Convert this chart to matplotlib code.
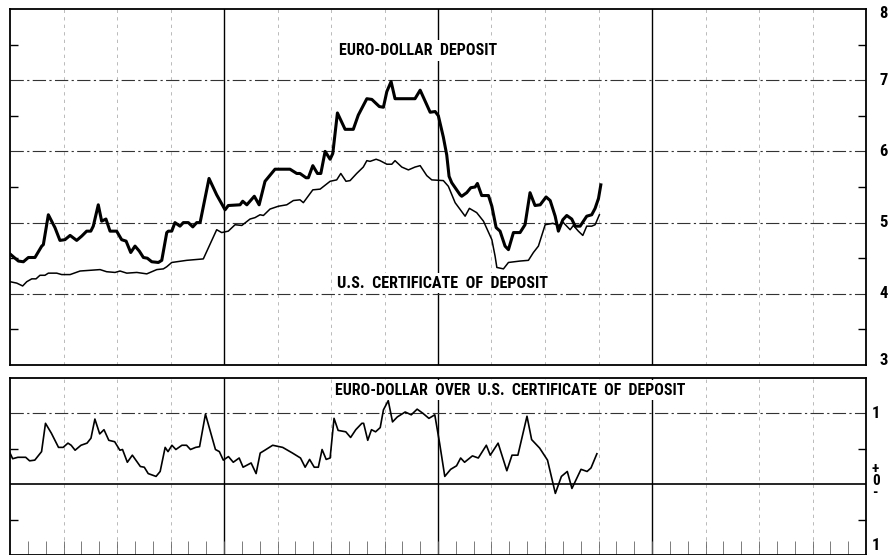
import numpy as np
import matplotlib
matplotlib.use("Agg")
import matplotlib.pyplot as plt
import matplotlib.transforms as mtransforms
from matplotlib import font_manager

# months from the start of the first year (4 years shown, data ends ~Oct of year 3)
euro_x = [0.0, 0.47, 0.75, 1.03, 1.40, 1.78, 1.87, 2.15, 2.52, 2.80, 3.08, 3.37, 3.74, 4.02,
          4.30, 4.53, 4.67, 4.95, 5.14, 5.38, 5.61, 5.98, 6.26, 6.51, 6.77, 7.01, 7.25, 7.48,
          7.70, 7.95, 8.32, 8.51, 8.79, 8.88, 9.07, 9.25, 9.53, 9.72, 10.0, 10.25, 10.47, 10.66,
          11.16, 11.59, 12.06, 12.24, 12.90, 13.05, 13.28, 13.70, 13.97, 14.30, 14.86, 15.70,
          16.08, 16.26, 16.60, 16.73, 16.98, 17.24, 17.43, 17.67, 17.95, 18.10, 18.36, 18.79,
          19.25, 19.53, 20.01, 20.29, 20.71, 20.94, 21.13, 21.37, 21.59, 22.71, 23.0, 23.56,
          23.84, 24.02, 24.30, 24.49, 24.62, 24.77, 25.24, 25.33, 25.61, 25.84, 26.08, 26.21,
          26.45, 26.83, 27.02, 27.26, 27.48, 27.76, 27.95, 28.23, 28.60, 28.88, 29.16, 29.44,
          29.73, 30.06, 30.29, 30.57, 30.75, 31.0, 31.22, 31.50, 31.69, 31.97, 32.34, 32.62,
          32.81, 33.0, 33.13]
euro_y = [4.56, 4.46, 4.45, 4.51, 4.51, 4.67, 4.69, 5.11, 4.93, 4.75, 4.76, 4.82, 4.75, 4.81,
          4.88, 4.88, 4.95, 5.25, 5.02, 5.05, 4.88, 4.88, 4.76, 4.74, 4.58, 4.67, 4.60, 4.51,
          4.50, 4.45, 4.44, 4.47, 4.86, 4.88, 4.88, 5.00, 4.95, 5.00, 5.00, 4.94, 5.00, 5.00,
          5.62, 5.39, 5.18, 5.24, 5.25, 5.30, 5.25, 5.37, 5.25, 5.58, 5.75, 5.75,
          5.69, 5.69, 5.63, 5.63, 5.80, 5.69, 5.69, 6.00, 5.89, 5.97, 6.54, 6.31,
          6.31, 6.51, 6.74, 6.73, 6.63, 6.62, 6.84, 6.98, 6.74, 6.74, 6.86, 6.55,
          6.56, 6.50, 6.20, 5.95, 5.65, 5.56, 5.39, 5.37, 5.42, 5.49, 5.50, 5.55,
          5.38, 5.38, 5.23, 4.93, 4.88, 4.67, 4.62, 4.86, 4.86, 4.97, 5.42, 5.24,
          5.25, 5.36, 5.31, 5.09, 4.88, 5.04, 5.10, 5.05, 4.95, 4.95, 5.09, 5.11,
          5.20, 5.34, 5.53]

cd_x = [0.0, 0.38, 0.71, 0.94, 1.22, 1.46, 1.68, 1.96, 2.15, 2.62, 2.90, 3.37, 3.93, 4.49,
        5.05, 5.42, 5.89, 6.17, 6.55, 7.11, 7.67, 8.23, 8.60, 8.79, 9.07, 9.91, 10.84, 11.59,
        11.87, 12.24, 12.62, 13.0, 13.46, 13.74, 14.02, 14.21, 14.58, 15.05, 15.52, 15.89,
        16.26, 16.45, 16.98, 17.39, 17.95, 18.32, 18.55, 18.84, 19.07, 19.44, 19.81, 20.01,
        20.19, 20.53, 20.75, 21.13, 21.41, 21.59, 21.97, 22.34, 22.71, 23.0, 23.37, 23.65,
        24.30, 24.58, 24.96, 25.52, 25.76, 26.17, 26.55, 27.02, 27.20, 27.30, 27.67, 27.95,
        28.60, 29.07, 29.35, 29.63, 30.01, 30.44, 30.75, 31.03, 31.41, 31.59, 31.87, 32.12,
        32.34, 32.62, 32.81, 33.05]
cd_y = [4.17, 4.15, 4.11, 4.17, 4.21, 4.21, 4.26, 4.26, 4.29, 4.29, 4.27, 4.27, 4.32, 4.33,
        4.34, 4.31, 4.30, 4.32, 4.29, 4.30, 4.28, 4.34, 4.35, 4.38, 4.44, 4.47, 4.49, 4.90,
        4.86, 4.88, 4.97, 4.96, 5.05, 5.07, 5.11, 5.10, 5.19, 5.23, 5.25, 5.31,
        5.32, 5.28, 5.46, 5.47, 5.58, 5.60, 5.69, 5.58, 5.59, 5.69, 5.78, 5.87,
        5.86, 5.89, 5.87, 5.82, 5.82, 5.87, 5.78, 5.74, 5.78, 5.80, 5.66, 5.60,
        5.59, 5.51, 5.28, 5.09, 5.20, 5.14, 5.02, 4.76, 4.53, 4.37, 4.35, 4.44,
        4.46, 4.47, 4.58, 4.67, 4.97, 4.99, 4.96, 5.00, 4.90, 4.96, 4.88, 4.82,
        4.95, 4.95, 4.97, 5.11]

spread_x = [0.0, 0.15, 0.44, 0.88, 1.10, 1.39, 1.77, 1.99, 2.32, 2.72, 2.98, 3.25, 3.43, 3.65,
            3.98, 4.32, 4.54, 4.76, 5.03, 5.27, 5.54, 5.87, 6.16, 6.31, 6.58, 6.86, 7.31, 7.53,
            7.75, 8.19, 8.42, 8.70, 8.86, 9.08, 9.30, 9.64, 9.90, 10.12, 10.41, 10.63, 10.96,
            11.52, 11.74, 11.96, 12.25, 12.52, 12.85, 13.07, 13.52, 13.80, 14.03, 14.29, 14.73,
            15.29, 15.84, 16.29, 16.55, 16.80, 17.06, 17.29, 17.50, 17.73, 17.95, 18.17, 18.40,
            18.83, 19.10, 19.39, 19.73, 19.83, 20.06, 20.27, 20.50, 20.76, 20.94, 21.21, 21.45,
            21.72, 22.16, 22.50, 22.83, 23.16, 23.49, 23.82, 24.09, 24.38, 24.71, 25.04, 25.27,
            25.49, 25.93, 26.26, 26.71, 26.93, 27.37, 27.86, 28.15, 28.48, 28.99, 29.25, 29.70,
            30.14, 30.58, 30.92, 31.25, 31.51, 32.02, 32.36, 32.58, 32.91]
spread_y = [0.44, 0.36, 0.38, 0.38, 0.33, 0.34, 0.46, 0.86, 0.72, 0.52, 0.52, 0.58, 0.55, 0.48,
            0.55, 0.58, 0.65, 0.92, 0.71, 0.77, 0.62, 0.60, 0.48, 0.49, 0.31, 0.41, 0.25, 0.24,
            0.15, 0.11, 0.18, 0.52, 0.46, 0.55, 0.49, 0.55, 0.55, 0.49, 0.52, 0.53, 0.99,
            0.49, 0.46, 0.34, 0.39, 0.31, 0.37, 0.24, 0.30, 0.15, 0.44, 0.48, 0.55,
            0.52, 0.44, 0.37, 0.24, 0.35, 0.24, 0.24, 0.49, 0.35, 0.37, 0.93, 0.76,
            0.74, 0.66, 0.77, 0.86, 0.86, 0.62, 0.77, 0.74, 0.80, 1.05, 1.18, 0.88,
            0.95, 1.02, 0.98, 1.06, 1.00, 0.93, 0.98, 0.58, 0.11, 0.21, 0.26, 0.37,
            0.31, 0.40, 0.37, 0.55, 0.41, 0.58, 0.19, 0.41, 0.41, 0.96, 0.63, 0.51,
            0.34, -0.13, 0.11, 0.18, -0.06, 0.21, 0.18, 0.23, 0.43]

top_labels = ["3", "4", "5", "6", "7", "8"]
top_levels = [3, 4, 5, 6, 7, 8]

# pick the narrowest bold sans that is installed
available = {f.name for f in font_manager.fontManager.ttflist}
candidates = ["Liberation Sans Narrow", "DejaVu Sans Condensed", "Roboto Condensed",
              "Roboto", "Liberation Sans", "DejaVu Sans"]
font = next(c for c in candidates if c in available)
blank = dict(facecolor="white", edgecolor="none", pad=2)

fig = plt.figure(figsize=(8.89, 5.55), dpi=100)
ax1 = fig.add_axes([10 / 889, 1 - 365 / 555, 856 / 889, 356 / 555])
ax2 = fig.add_axes([10 / 889, 0.0, 856 / 889, 177 / 555])

dashdot = (0, (12, 3, 2, 3))
for ax in (ax1, ax2):
    ax.set_xlim(0, 48)
    for m in np.arange(3, 48, 3):
        if m % 12 == 0:
            ax.axvline(m, color="black", lw=1.0, zorder=1)
        else:
            ax.axvline(m, color="#b0b0b0", lw=0.6, ls=(0, (4, 5)), zorder=1)
    for s in ax.spines.values():
        s.set_linewidth(1.3)
    ax.set_xticks([])

# top panel
ax1.set_ylim(3, 8)
for v in [4, 5, 6, 7]:
    ax1.axhline(v, color="#333333", lw=0.8, ls=dashdot, zorder=1)
ax1.plot(euro_x, euro_y, color="black", lw=2.2, zorder=3)
ax1.plot(cd_x, cd_y, color="black", lw=1.1, zorder=3)
ax1.set_yticks(top_levels)
ax1.set_yticklabels([])
ax1.set_yticks(np.arange(3.5, 8, 1), minor=True)
ax1.tick_params(axis="y", which="major", length=0)
ax1.tick_params(axis="y", which="minor", direction="in", length=6, width=1.0,
                left=True, right=True)
tr1 = mtransforms.blended_transform_factory(ax1.transAxes, ax1.transData)
label_pos = {8: 7.93, 3: 3.06}
for v, lab in zip(top_levels, top_labels):
    ax1.text(1.0152, label_pos.get(v, v), lab, transform=tr1, ha="left", va="center",
             fontsize=12, fontweight="bold", family=font, clip_on=False)

t_euro = ax1.text(0.477, 0.883, "EURO-DOLLAR  DEPOSIT", transform=ax1.transAxes,
                  ha="center", va="center", fontsize=12, fontweight="bold", family=font,
                  bbox=blank, zorder=4)
t_cd = ax1.text(0.505, 0.23, "U.S.  CERTIFICATE  OF  DEPOSIT", transform=ax1.transAxes,
                ha="center", va="center", fontsize=12, fontweight="bold", family=font,
                bbox=blank, zorder=4)

# bottom panel
ax2.set_ylim(-1, 1.5)
ax2.axhline(1, color="#333333", lw=0.8, ls=dashdot, zorder=1)
ax2.axhline(0, color="black", lw=1.2, zorder=1)
ax2.plot(spread_x, spread_y, color="black", lw=1.2, zorder=3)
ax2.set_yticks([-1, 0, 1])
ax2.set_yticklabels([])
ax2.set_yticks([-0.5, 0.5], minor=True)
ax2.tick_params(axis="y", which="major", length=0)
ax2.tick_params(axis="y", which="minor", direction="in", length=6, width=1.0,
                left=True, right=True)
ax2.set_xticks(np.arange(1, 48), minor=True)
ax2.tick_params(axis="x", which="minor", direction="in", length=10, width=0.6,
                color="#666666", bottom=True)
tr2 = mtransforms.blended_transform_factory(ax2.transAxes, ax2.transData)
ax2.text(1.007, 1, "1", transform=tr2, ha="left", va="center",
         fontsize=12, fontweight="bold", family=font, clip_on=False)
ax2.text(1.007, -0.86, "1", transform=tr2, ha="left", va="center",
         fontsize=12, fontweight="bold", family=font, clip_on=False)
ax2.text(1.007, 0.05, "+\n0\n-", transform=tr2, ha="left", va="center",
         fontsize=11, fontweight="bold", family=font, linespacing=0.82, clip_on=False)
t_spread = ax2.text(0.584, 1.33, "EURO-DOLLAR  OVER  U.S.  CERTIFICATE  OF  DEPOSIT",
                    transform=tr2, ha="center", va="center", fontsize=12,
                    fontweight="bold", family=font, bbox=blank, zorder=4)

# fit the panel captions to the widths they have on the original sheet
renderer = fig.canvas.get_renderer()
for t, target in [(t_euro, 158), (t_cd, 211), (t_spread, 351)]:
    w = t.get_window_extent(renderer).width
    t.set_fontsize(min(13, t.get_fontsize() * target / w))

fig.savefig("out.png", dpi=100, facecolor="white")
